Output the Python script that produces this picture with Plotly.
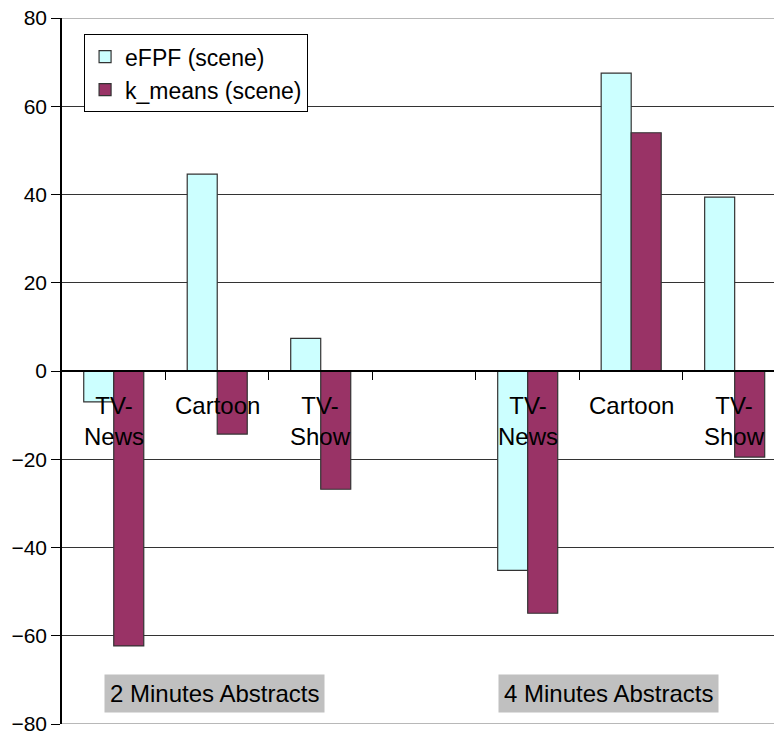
import plotly.graph_objects as go

# Slot layout: three genres per abstract length, one empty slot between the groups
slot_labels = ["TV-News", "Cartoon", "TV-Show", "", "TV-News", "Cartoon", "TV-Show"]
group_labels = ["2 Minutes Abstracts", "4 Minutes Abstracts"]
efpf_scene = [-7.0, 44.6, 7.4, None, -45.2, 67.5, 39.4]
kmeans_scene = [-62.3, -14.3, -26.8, None, -54.9, 54.0, -19.5]
y_ticks = [-80, -60, -40, -20, 0, 20, 40, 60, 80]

slots = list(range(len(slot_labels)))
font_family = "Liberation Sans, Arial, sans-serif"

fig = go.Figure()
fig.add_trace(go.Bar(
    x=slots, y=efpf_scene, name="eFPF (scene)",
    marker=dict(color="#CCFFFF", line=dict(color="#333333", width=1.2)),
))
fig.add_trace(go.Bar(
    x=slots, y=kmeans_scene, name="k_means (scene)",
    marker=dict(color="#993366", line=dict(color="#333333", width=1.2)),
))

# Category labels sit inside the plot, just under the zero line
for s, lab in zip(slots, slot_labels):
    if not lab:
        continue
    fig.add_annotation(
        x=s, y=0, xref="x", yref="y", yanchor="top", yshift=-19,
        text=lab.replace("-", "-<br>") if "-" in lab else lab,
        showarrow=False, font=dict(family=font_family, size=24, color="black"),
    )

# Group captions on grey boxes near the bottom
group_centers = [0.97, 4.78]
for cx, lab in zip(group_centers, group_labels):
    fig.add_annotation(
        x=cx, y=-73, xref="x", yref="y",
        text=lab, showarrow=False, bgcolor="#C0C0C0",
        borderpad=5, font=dict(family=font_family, size=24, color="black"),
    )

# Lighter outer grid lines at the ends of the value range
for v in (y_ticks[0], y_ticks[-1]):
    fig.add_shape(type="line", xref="paper", yref="y", x0=0, x1=1, y0=v, y1=v,
                  line=dict(color="#A0A0A0", width=1.5), layer="above")

boundaries = [s + 0.5 for s in slots[:-1]]

fig.update_layout(
    width=774, height=735,
    margin=dict(l=62, r=0, t=18, b=11),
    paper_bgcolor="white", plot_bgcolor="white",
    barmode="group", bargap=0.42, bargroupgap=0,
    font=dict(family=font_family, size=22, color="black"),
    showlegend=True,
    legend=dict(
        x=0.031, y=0.977, xanchor="left", yanchor="top",
        bgcolor="white", bordercolor="black", borderwidth=1,
        font=dict(family=font_family, size=23, color="black"),
        itemwidth=30, tracegroupgap=0,
    ),
    xaxis=dict(
        range=[-0.5, 6.38], anchor="free", position=0.5,
        automargin=False,
        showgrid=False, zeroline=False,
        showline=True, linecolor="black", linewidth=1.5,
        tickmode="array", tickvals=boundaries, ticks="outside", ticklen=8,
        tickcolor="black", showticklabels=False,
    ),
    yaxis=dict(
        range=[-80, 80], tickmode="array", tickvals=y_ticks,
        automargin=False,
        showgrid=True, gridcolor="#333333", gridwidth=1.2,
        zeroline=False, showline=True, linecolor="black", linewidth=1.5,
        ticks="outside", ticklen=9, tickcolor="black",
        ticklabeloverflow="allow",
        tickfont=dict(family=font_family, size=21, color="black"),
    ),
)

fig.write_html("out.html")
